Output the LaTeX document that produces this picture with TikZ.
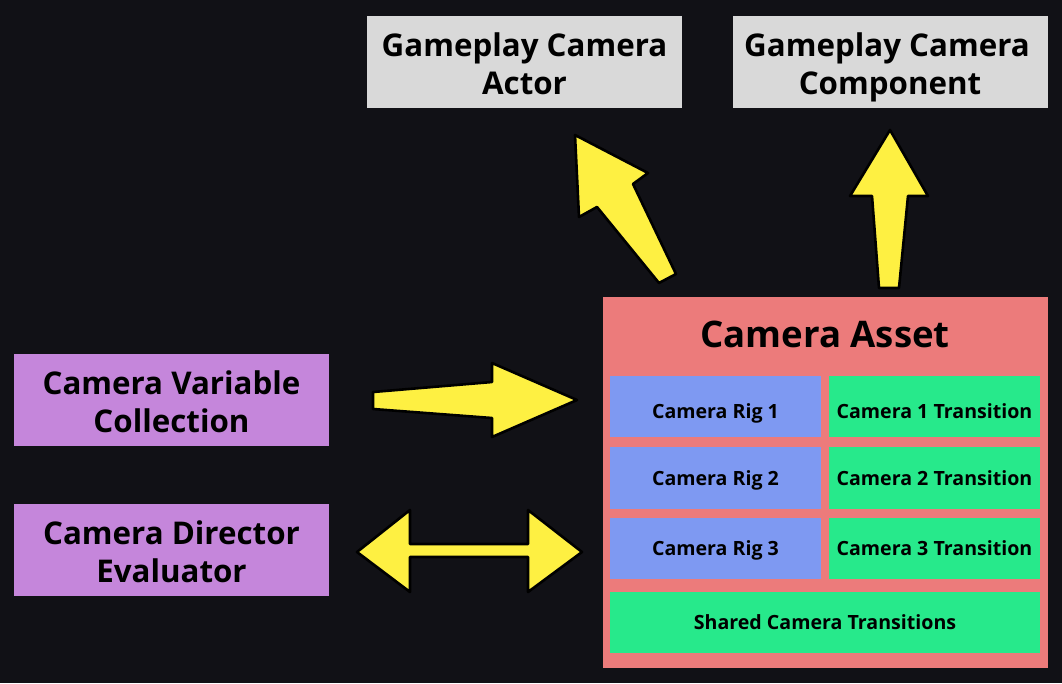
\documentclass[tikz,border=0pt]{standalone}
\usepackage{fontspec}
\setmainfont{Open Sans}
\begin{document}
\begin{tikzpicture}[x=1pt,y=-1pt,
  box/.style={inner sep=0pt,font=\bfseries\fontsize{31.3}{37.6}\selectfont,align=center,text=black,
    text height=65pt,text depth=0pt},
  greybox/.style={box,fill=boxgrey,minimum width=315pt,minimum height=92pt},
  purplebox/.style={box,fill=boxpurple,minimum width=315pt,minimum height=92pt},
  cell/.style={inner sep=0pt,font=\bfseries\fontsize{19.6}{23}\selectfont,text=black,
    text height=14pt,text depth=0pt,minimum width=211pt,minimum height=61.5pt},
  lowcell/.style={text height=23pt},
  rig/.style={cell,fill=rigblue},
  trans/.style={cell,fill=transgreen},
  blockarrow/.style={fill=arrowyellow,draw=black,line width=2.6pt,line join=round}]
\definecolor{bg}{HTML}{111116}
\definecolor{boxgrey}{HTML}{D9D9D9}
\definecolor{boxpurple}{HTML}{C586DB}
\definecolor{assetred}{HTML}{EC7B7B}
\definecolor{rigblue}{HTML}{7E99F2}
\definecolor{transgreen}{HTML}{27E98B}
\definecolor{arrowyellow}{HTML}{FEF042}

% canvas
\fill[bg] (0,0) rectangle (1062,683);
\useasboundingbox (0,0) rectangle (1062,683);

% top targets
\node[greybox] (actor) at (524.5,62) {Gameplay Camera\\Actor};
\node[greybox] (component) at (890,62) {Gameplay Camera\kern6pt\\Component};

% left sources
\node[purplebox] (varcoll) at (171.5,400) {Camera Variable\\Collection};
\node[purplebox] (director) at (171.5,550) {Camera Director\\Evaluator};

% camera asset container
\node[fill=assetred,inner sep=0pt,minimum width=445pt,minimum height=371pt] (asset) at (825.5,482.5) {};
\node[font=\bfseries\fontsize{36.6}{42}\selectfont,text=black,inner sep=0pt,
  text height=26.1pt,text depth=0pt] (assettitle) at (825,334.5) {Camera Asset};

\node[rig,lowcell] (rig1) at (715.5,406.5) {Camera Rig 1};
\node[trans,lowcell] (tr1) at (934.5,406.5) {Camera 1 Transition};
\node[rig] (rig2) at (715.5,478) {Camera Rig 2};
\node[trans] (tr2) at (934.5,478) {Camera 2 Transition};
\node[rig] (rig3) at (715.5,548.5) {Camera Rig 3};
\node[trans] (tr3) at (934.5,548.5) {Camera 3 Transition};
\node[trans,minimum width=430pt] (shared) at (825,622.5) {Shared Camera Transitions};

% block arrows
\draw[blockarrow] (676,274) -- (633,184) -- (648,173) -- (575,135) -- (579,217) -- (597,207) -- (659,283) -- cycle;
\draw[blockarrow] (879,288) -- (872,196) -- (850,196) -- (890,130) -- (928,196) -- (908,196) -- (899,288) -- cycle;
\draw[blockarrow] (373,392) -- (492,382) -- (492,363) -- (577,400) -- (492,437) -- (492,418) -- (373,409) -- cycle;
\draw[blockarrow] (357,552) -- (410,510) -- (410,544) -- (528,544) -- (528,510) -- (582,552) -- (528,592) -- (528,557) -- (410,557) -- (410,592) -- cycle;
\end{tikzpicture}
\end{document}
